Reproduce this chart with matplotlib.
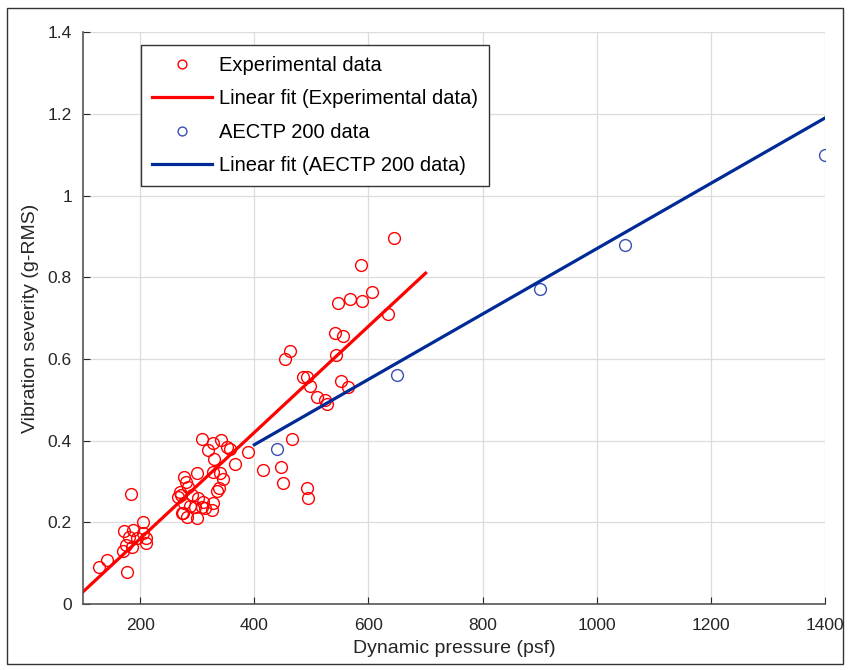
import numpy as np
import matplotlib
matplotlib.use('Agg')
import matplotlib.pyplot as plt
from matplotlib.patches import Rectangle

plt.rcParams['font.family'] = ['Liberation Sans', 'DejaVu Sans']

# experimental data (dynamic pressure psf, vibration g-RMS)
exp_q = [128, 142, 177, 184, 172, 188, 181, 195, 205, 210, 210, 175, 170, 186, 205,
         266, 270, 272, 273, 275, 277, 277, 280, 282, 284, 287, 291, 296, 300, 300,
         301, 308, 308, 310, 314, 319, 326, 328, 328, 328, 329, 335, 338, 340, 342,
         345, 352, 357, 366, 389, 415, 447, 450, 466, 492, 494,
         454, 462, 485, 492, 498, 510, 524, 527, 543, 541, 555, 552, 564,
         547, 568, 589, 587, 606, 634, 645]
exp_g = [0.09, 0.108, 0.078, 0.269, 0.179, 0.181, 0.164, 0.161, 0.20, 0.149, 0.162, 0.144, 0.13, 0.14, 0.174,
         0.262, 0.274, 0.267, 0.222, 0.222, 0.311, 0.247, 0.299, 0.213, 0.286, 0.24, 0.267, 0.237, 0.32, 0.21,
         0.259, 0.404, 0.237, 0.25, 0.235, 0.377, 0.23, 0.394, 0.323, 0.247, 0.355, 0.277, 0.284, 0.32, 0.401,
         0.306, 0.385, 0.379, 0.343, 0.372, 0.327, 0.335, 0.296, 0.404, 0.284, 0.26,
         0.60, 0.62, 0.555, 0.555, 0.533, 0.507, 0.50, 0.49, 0.61, 0.663, 0.656, 0.546, 0.531,
         0.737, 0.746, 0.742, 0.83, 0.763, 0.71, 0.896]

# AECTP 200 data
aectp_q = [440, 650, 900, 1050, 1400]
aectp_g = [0.38, 0.56, 0.77, 0.88, 1.10]

# linear fits (slope, intercept) and plotted ranges
exp_fit = (0.0013, -0.10)
exp_fit_range = (100, 700)
aectp_fit = (0.0008, 0.07)
aectp_fit_range = (400, 1400)

red = '#ff0000'
navy = '#002a96'

fig = plt.figure(figsize=(8.48, 6.70), dpi=100)
ax = fig.add_axes([0.098, 0.0985, 0.875, 0.8535])

ax.plot(exp_q, exp_g, 'o', mfc='none', mec=red, ms=8.5, mew=1.0, label='Experimental data')
xr = np.array(exp_fit_range)
ax.plot(xr, exp_fit[0] * xr + exp_fit[1], color=red, lw=2.3, label='Linear fit (Experimental data)')
ax.plot(aectp_q, aectp_g, 'o', mfc='none', mec='#3a4fb0', ms=8.5, mew=1.0, label='AECTP 200 data')
xb = np.array(aectp_fit_range)
ax.plot(xb, aectp_fit[0] * xb + aectp_fit[1], color=navy, lw=2.3, label='Linear fit (AECTP 200 data)')

ax.set_xlim(100, 1400)
ax.set_ylim(0, 1.4)
ax.set_xticks(range(200, 1401, 200))
ax.set_yticks(np.arange(0, 1.41, 0.2))
ax.set_yticklabels(['0', '0.2', '0.4', '0.6', '0.8', '1', '1.2', '1.4'])
ax.tick_params(direction='in', length=5, labelsize=12.5, colors='#262626', pad=8)
ax.tick_params(axis='x', pad=10)
ax.grid(True, color='#dcdcdc', lw=0.9)
ax.set_axisbelow(True)
for s in ['top', 'right']:
    ax.spines[s].set_visible(False)
for s in ['left', 'bottom']:
    ax.spines[s].set_color('#555555')
    ax.spines[s].set_linewidth(1.2)

ax.set_xlabel('Dynamic pressure (psf)', fontsize=14, color='#262626', labelpad=5)
ax.set_ylabel('Vibration severity (g-RMS)', fontsize=14, color='#262626', labelpad=6)

leg = ax.legend(loc='upper left', bbox_to_anchor=(0.078, 0.977), fontsize=14.5,
                handlelength=3.0, handletextpad=0.3, borderpad=0.55, labelspacing=0.7,
                borderaxespad=0, fancybox=False, framealpha=1, edgecolor='#333333',
                markerscale=0.75)
leg.get_frame().set_linewidth(1.0)

fig.patches.append(Rectangle((0.008, 0.009), 0.986, 0.979, transform=fig.transFigure,
                             fill=False, edgecolor='#333333', lw=1.0))

fig.savefig('out.png', dpi=100)
